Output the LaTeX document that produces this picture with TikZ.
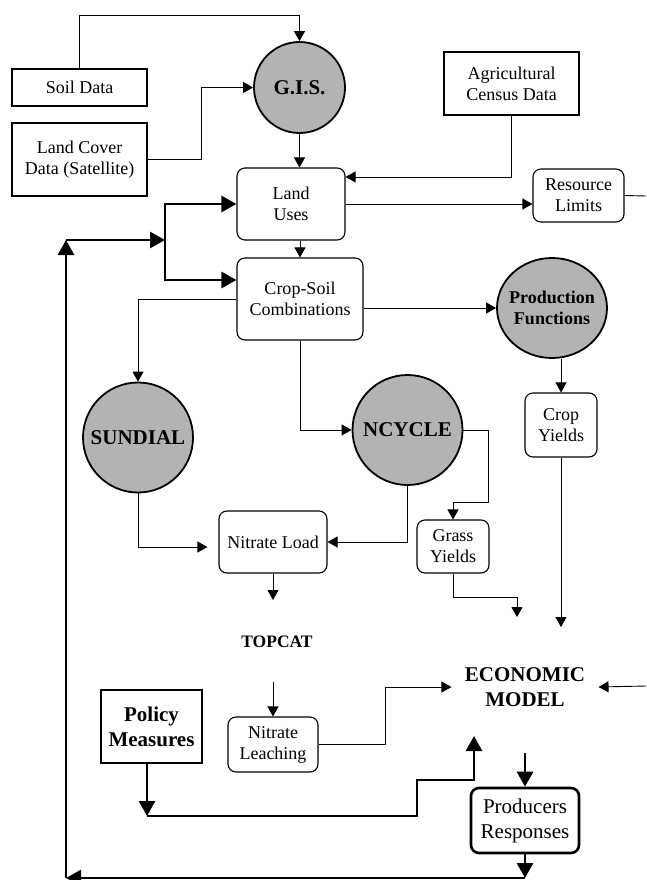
\documentclass[tikz,border=0pt]{standalone}
\usepackage{fontspec}
\setmainfont{Liberation Serif}
\usetikzlibrary{arrows.meta,shapes.geometric,calc}
\definecolor{cgray}{RGB}{179,179,179}
\newcommand\nsz{\fontsize{18}{21}\selectfont}
\newcommand\bigb{\fontsize{21}{24}\selectfont\bfseries}
\newcommand\medb{\fontsize{18}{21}\selectfont\bfseries}
\newcommand\topb{\fontsize{17.5}{21}\selectfont\bfseries}
\newcommand\ecob{\fontsize{21}{25}\selectfont\bfseries}
\newcommand\prsz{\fontsize{21}{25}\selectfont}
\begin{document}
\begin{tikzpicture}[x=1pt,y=-1pt,
  line width=0.9pt,
  arr/.style={-{Triangle[length=10pt,width=11pt]}},
  tarr/.style={line width=2.8pt,-{Triangle[length=15pt,width=16pt]}},
  box/.style={draw,line width=1.1pt,inner sep=0pt,align=center,font=\nsz},
  rbox/.style={box,rounded corners=8pt},
  circ/.style={circle,draw,line width=1.8pt,fill=cgray,inner sep=0pt,align=center},
]
\useasboundingbox (0,0) rectangle (646,880);

% nodes
\node[box,minimum width=135pt,minimum height=37pt] (soil) at (79.5,87.5) {Soil Data};
\node[box,minimum width=135pt,minimum height=73pt] (landcover) at (79.5,159.5) {Land Cover\\Data (Satellite)};
\node[circ,minimum size=91pt,font=\bigb] (gis) at (299.5,87.5) {G.I.S.};
\node[box,minimum width=135pt,minimum height=63pt] (agri) at (511.5,83.5) {Agricultural\\Census Data};
\node[rbox,minimum width=108pt,minimum height=72pt] (landuses) at (291,204) {Land\\Uses};
\node[rbox,minimum width=91pt,minimum height=53pt] (resource) at (578.5,195.5) {Resource\\Limits};
\node[rbox,minimum width=126pt,minimum height=82pt] (cropsoil) at (300,299) {Crop-Soil\\Combinations};
\node[circ,ellipse,inner xsep=-12pt,inner ysep=-6pt,minimum width=110pt,minimum height=100pt,font=\medb] (prod) at (552,308) {Production\\Functions};
\node[circ,minimum size=110pt,font=\bigb] (sundial) at (138,437.5) {SUNDIAL};
\node[circ,minimum size=110pt,font=\bigb] (ncycle) at (407.5,430) {NCYCLE};
\node[rbox,minimum width=72pt,minimum height=64pt] (cropyields) at (561,425) {Crop\\Yields};
\node[rbox,minimum width=72pt,minimum height=53pt] (grass) at (453,546.5) {Grass\\Yields};
\node[rbox,minimum width=108pt,minimum height=62pt] (nitload) at (273,542) {Nitrate Load};
\node[font=\topb] (topcat) at (277,642) {TOPCAT};
\node[rbox,minimum width=90pt,minimum height=55pt] (nitleach) at (273,744.5) {Nitrate\\Leaching};
\node[align=center,font=\ecob,inner xsep=13pt,inner ysep=0pt] (econ) at (525,687) {ECONOMIC\\MODEL};
\node[box,line width=2.6pt,minimum width=101pt,minimum height=73pt,font=\ecob] (policy) at (151.5,726.5) {Policy\\Measures};
\node[rbox,line width=2.6pt,minimum width=108pt,minimum height=65pt,font=\prsz] (producers) at (525,820.5) {Producers\\Responses};

% free-end coordinates
\coordinate (cy) at (561,627);
\coordinate (gy) at (517,617);
\coordinate (nl) at (273,600);
\coordinate (tc) at (273,682);
\coordinate (rr) at (646,686);
\coordinate (re) at (646,196);
\coordinate (ep) at (525,753);
\coordinate (c1) at (525,878);
\coordinate (c2) at (66,878);
\coordinate (c3) at (66,240);
\coordinate (c4) at (165,240);
\coordinate (p1) at (147,816);
\coordinate (p2) at (474,736);

% thin connectors
\draw[arr] (soil.north) -- ++(0,-53) -| (gis.north);
\draw[arr] (landcover.east) -- ++(54,0) |- (gis.west);
\draw[arr] (gis.south) -- (gis.south |- landuses.north);
\draw[arr] (agri.south) |- ($(landuses.east)+(0,-27)$);
\draw[arr] (landuses.east) -- (landuses.east -| resource.west);
\draw (resource.east) -- (re);
\draw[arr] (cropsoil.north |- landuses.south) -- (cropsoil.north);
\draw[arr] (cropsoil.west) -| (sundial.north);
\draw[arr] (cropsoil.south) |- (ncycle.west);
\draw[arr] (cropsoil.east |- prod.west) -- (prod.west);
\draw[arr] (cropyields.north |- prod.south) -- (cropyields.north);
\draw[arr] (cropyields.south) -- (cy);
\draw[arr] (ncycle.east) -- ++(25,0) -- ++(0,72) -| (grass.north);
\draw[arr] (ncycle.south) |- (nitload.east);
\draw[arr,shorten >=11pt] (sundial.south) |- ([yshift=-5pt]nitload.west);
\draw[arr] (grass.south) -- ++(0,24) -| (gy);
\draw[arr] (nitload.south) -- (nl);
\draw[arr] (tc) -- (nitleach.north);
\draw[arr] (nitleach.east) -- ++(67,0) |- (econ.west);
\draw[arr] (rr) -- (econ.east);

% thick connectors
\draw[tarr] (ep) -- (producers.north);
\draw[tarr] (producers.south) -- (c1);
\draw[tarr] (c1) -- (c2);
\draw[tarr] (c2) -- (c3);
\draw[tarr] (c3) -- (c4);
\draw[tarr] (c4) |- (landuses.west);
\draw[tarr] (c4) |- ($(cropsoil.west)+(0,-19)$);
\draw[tarr] (policy.south -| p1) -- (p1);
\draw[tarr] (p1) -- ++(270,0) -- ++(0,-36) -| (p2);
\end{tikzpicture}
\end{document}
